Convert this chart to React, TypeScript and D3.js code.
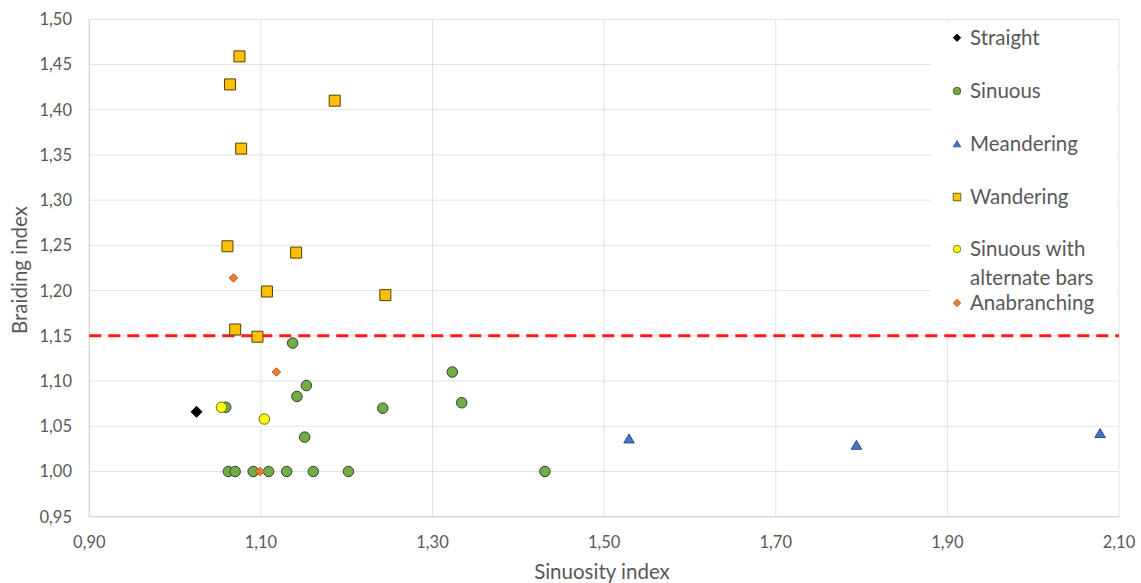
import React from "react";
import * as d3 from "d3";

// River planform classification: sinuosity vs braiding index
const straightX = [1.025];
const straightY = [1.066];

const sinuousX = [1.059, 1.137, 1.153, 1.142, 1.242, 1.323, 1.334, 1.151, 1.062, 1.07, 1.091, 1.109, 1.13, 1.161, 1.202, 1.431];
const sinuousY = [1.071, 1.142, 1.095, 1.083, 1.07, 1.11, 1.076, 1.038, 1.0, 1.0, 1.0, 1.0, 1.0, 1.0, 1.0, 1.0];

const meanderingX = [1.529, 1.794, 2.078];
const meanderingY = [1.036, 1.029, 1.042];

const wanderingX = [1.075, 1.064, 1.186, 1.077, 1.061, 1.141, 1.107, 1.245, 1.07, 1.096];
const wanderingY = [1.459, 1.428, 1.41, 1.357, 1.249, 1.242, 1.199, 1.195, 1.157, 1.149];

const altBarsX = [1.054, 1.104];
const altBarsY = [1.071, 1.058];

const anabranchingX = [1.068, 1.118, 1.099];
const anabranchingY = [1.214, 1.11, 1.0];

const braidingThreshold = 1.15;

const xTicks = [0.9, 1.1, 1.3, 1.5, 1.7, 1.9, 2.1];
const yTicks = [0.95, 1.0, 1.05, 1.1, 1.15, 1.2, 1.25, 1.3, 1.35, 1.4, 1.45, 1.5];

const legendLabels = ["Straight", "Sinuous", "Meandering", "Wandering", "Sinuous with", "Anabranching"];

type Shape = "diamond" | "circle" | "triangle" | "square";
interface Series {
  xs: number[];
  ys: number[];
  shape: Shape;
  size: number;
  fill: string;
  stroke: string;
}

const series: Series[] = [
  { xs: straightX, ys: straightY, shape: "diamond", size: 11, fill: "#000000", stroke: "#000000" },
  { xs: sinuousX, ys: sinuousY, shape: "circle", size: 10.5, fill: "#70AD47", stroke: "#34402c" },
  { xs: meanderingX, ys: meanderingY, shape: "triangle", size: 10.5, fill: "#4472C4", stroke: "#2F4F8A" },
  { xs: wanderingX, ys: wanderingY, shape: "square", size: 11, fill: "#FFC000", stroke: "#4f4012" },
  { xs: altBarsX, ys: altBarsY, shape: "circle", size: 10.5, fill: "#FFFF00", stroke: "#6f6820" },
  { xs: anabranchingX, ys: anabranchingY, shape: "diamond", size: 8.5, fill: "#ED7D31", stroke: "#b85a1c" },
];

const fmt = (v: number) => v.toFixed(2).replace(".", ",");

function markerPath(shape: Shape, s: number): string {
  const h = s / 2;
  switch (shape) {
    case "diamond":
      return `M0,${-h}L${h},0L0,${h}L${-h},0Z`;
    case "square":
      return `M${-h},${-h}H${h}V${h}H${-h}Z`;
    case "triangle": {
      const th = s * 0.85;
      return `M0,${-th * 0.55}L${h},${th * 0.45}L${-h},${th * 0.45}Z`;
    }
    case "circle":
    default:
      return d3.symbol(d3.symbolCircle, Math.PI * h * h)() || "";
  }
}

export default function App() {
  const W = 1141;
  const H = 583;
  const left = 89.3;
  const right = 1119;
  const top = 19.3;
  const bottom = 516.7;

  const x = d3.scaleLinear().domain([0.9, 2.1]).range([left, right]);
  const y = d3.scaleLinear().domain([0.95, 1.5]).range([bottom, top]);

  const textColor = "#595959";
  const font = "Lato, 'Open Sans', sans-serif";

  const legendX = 957;
  const legendRowY = [37.7, 91, 144, 197, 249, 303];

  return (
    <svg
      width={W}
      height={H}
      style={{ position: "absolute", left: 0, top: 0, background: "#fff" }}
      fontFamily={font}
    >
      <rect x={0} y={0} width={W} height={H} fill="#ffffff" />
      {/* gridlines */}
      {yTicks.map((t) => (
        <line key={"gy" + t} x1={left} x2={right} y1={y(t)} y2={y(t)} stroke="#e3e3e3" strokeWidth={1} />
      ))}
      {xTicks.map((t) => (
        <line key={"gx" + t} x1={x(t)} x2={x(t)} y1={top} y2={bottom} stroke="#e3e3e3" strokeWidth={1} />
      ))}
      {/* axis lines */}
      <line x1={left} x2={right} y1={bottom} y2={bottom} stroke="#d6d6d6" strokeWidth={1.2} />
      <line x1={left} x2={left} y1={top} y2={bottom} stroke="#d6d6d6" strokeWidth={1.2} />

      {/* tick labels */}
      {yTicks.map((t) => (
        <text key={"ly" + t} x={72} y={y(t)} dy="0.36em" textAnchor="end" fontSize={16.5} fill={textColor}>
          {fmt(t)}
        </text>
      ))}
      {xTicks.map((t) => (
        <text key={"lx" + t} x={x(t)} y={548} textAnchor="middle" fontSize={16.5} fill={textColor}>
          {fmt(t)}
        </text>
      ))}

      {/* axis titles */}
      <text x={602} y={579} textAnchor="middle" fontSize={20.5} fill={textColor}>
        Sinuosity index
      </text>
      <text
        transform={`translate(27,270) rotate(-90)`}
        textAnchor="middle"
        fontSize={20.5}
        fill={textColor}
      >
        Braiding index
      </text>

      {/* legend panel */}
      <rect x={931} y={22} width={186} height={308} fill="#ffffff" />

      {/* braiding threshold */}
      <line
        x1={left}
        x2={right}
        y1={y(braidingThreshold)}
        y2={y(braidingThreshold)}
        stroke="#ff1a1a"
        strokeWidth={3}
        strokeDasharray="12 7"
      />

      {/* data points */}
      {series.map((s, si) => (
        <g key={"s" + si}>
          {s.xs.map((xv, i) => (
            <path
              key={i}
              d={markerPath(s.shape, s.size)}
              transform={`translate(${x(xv)},${y(s.ys[i])})`}
              fill={s.fill}
              stroke={s.stroke}
              strokeWidth={1}
            />
          ))}
        </g>
      ))}

      {/* legend */}
      {series.map((s, si) => (
        <g key={"lg" + si}>
          <path
            d={markerPath(s.shape, 7.5)}
            transform={`translate(${legendX},${legendRowY[si]})`}
            fill={s.fill}
            stroke={s.stroke}
            strokeWidth={0.8}
          />
          <text x={970} y={legendRowY[si]} dy="0.36em" fontSize={20.5} fill={textColor}>
            {legendLabels[si]}
          </text>
        </g>
      ))}
      <text x={970} y={278} dy="0.36em" fontSize={20.5} fill={textColor}>
        alternate bars
      </text>
    </svg>
  );
}
